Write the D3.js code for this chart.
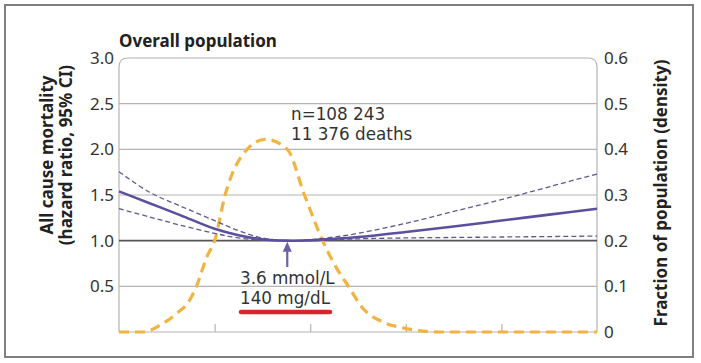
<!DOCTYPE html>
<html>
<head>
<meta charset="utf-8">
<script src="https://cdn.jsdelivr.net/npm/d3@7"></script>
<style>
  body { margin: 0; background: #fff; }
  svg { display: block; font-family: "Noto Sans", "Open Sans", sans-serif; }
</style>
</head>
<body>
<svg id="chart" width="701" height="363"></svg>
<script>
// ---- data (x in axis units; optimum at 3.6 mmol/L) ----
const xTicks = [1, 2, 3, 4];
const hrTicks = [0.5, 1.0, 1.5, 2.0, 2.5, 3.0];
const hrTickLabels = ["0.5", "1.0", "1.5", "2.0", "2.5", "3.0"];
const densTicks = [0, 0.1, 0.2, 0.3, 0.4, 0.5, 0.6];
const densTickLabels = ["0", "0.1", "0.2", "0.3", "0.4", "0.5", "0.6"];

const hrX     = [0, 0.32, 0.64, 1, 1.25, 1.5, 1.76, 2, 2.25, 2.5, 3, 3.5, 4, 4.5, 5];
const hrMid   = [1.54, 1.41, 1.28, 1.13, 1.06, 1.015, 1.0, 1.005, 1.02, 1.04, 1.095, 1.155, 1.22, 1.285, 1.35];
const hrUpper = [1.755, 1.53, 1.38, 1.22, 1.11, 1.03, 1.0, 1.01, 1.04, 1.08, 1.19, 1.32, 1.45, 1.59, 1.73];
const hrLower = [1.35, 1.26, 1.17, 1.08, 1.03, 1.005, 1.0, 1.0, 1.01, 1.02, 1.03, 1.035, 1.04, 1.045, 1.05];

const densX = [0, 0.25, 0.43, 0.6, 0.74, 0.81, 0.92, 1.0, 1.11, 1.34, 1.53, 1.76, 1.94, 2.13, 2.29, 2.4, 2.55, 2.76, 2.97, 3.18, 3.4, 3.8, 4.2, 4.6, 5];
const densY = [0, 0, 0.015, 0.04, 0.07, 0.1, 0.165, 0.2, 0.3, 0.4, 0.422, 0.4, 0.3, 0.2, 0.135, 0.1, 0.052, 0.022, 0.009, 0.002, 0, 0, 0, 0, 0];

const optimumX = 1.76;
const optimumLabels = ["3.6 mmol/L", "140 mg/dL"];
const titleText = "Overall population";
const annotation = ["n=108 243", "11 376 deaths"];
const leftTitle = ["All cause mortality", "(hazard ratio, 95% CI)"];
const rightTitle = "Fraction of population (density)";

// ---- layout ----
const svg = d3.select("#chart");
const L = 119, R = 597, T = 58, B = 332;
const x = d3.scaleLinear().domain([0, 5]).range([L, R]);
const yHR = d3.scaleLinear().domain([0, 3]).range([B, T]);
const yD = d3.scaleLinear().domain([0, 0.6]).range([B, T]);
const textCol = "#333";
const noteFont = "'DejaVu Sans', sans-serif";

// outer frame
svg.append("rect").attr("x", 5).attr("y", 5).attr("width", 688).attr("height", 352)
  .attr("fill", "none").attr("stroke", "#808080").attr("stroke-width", 2);

// gridlines (excluding top which is the frame)
svg.append("g").selectAll("line").data(hrTicks.filter(v => v !== 3 && v !== 1))
  .join("line")
  .attr("x1", L).attr("x2", R)
  .attr("y1", d => yHR(d)).attr("y2", d => yHR(d))
  .attr("stroke", "#b4b4b4").attr("stroke-width", 1.2);

// plot frame with rounded top corners
const rr = 9;
svg.append("path")
  .attr("d", `M${L},${B} L${L},${T + rr} Q${L},${T} ${L + rr},${T} L${R - rr},${T} Q${R},${T} ${R},${T + rr} L${R},${B}`)
  .attr("fill", "none").attr("stroke", "#b4b4b4").attr("stroke-width", 1.2);

// bottom axis
const xAxis = d3.axisTop(x).tickValues(xTicks).tickSize(8).tickFormat("");
svg.append("g").attr("transform", `translate(0,${B})`).call(xAxis)
  .call(g => g.select(".domain").remove())
  .call(g => g.selectAll("line").attr("stroke", "#b4b4b4").attr("stroke-width", 1.2));
svg.append("line").attr("x1", L).attr("x2", R).attr("y1", B).attr("y2", B)
  .attr("stroke", "#b4b4b4").attr("stroke-width", 1.2);

// reference line at 1.0
svg.append("line").attr("x1", L).attr("x2", R).attr("y1", yHR(1)).attr("y2", yHR(1))
  .attr("stroke", "#555").attr("stroke-width", 1.6);

// left tick labels
const yAxisL = d3.axisLeft(yHR).tickValues(hrTicks).tickSize(0)
  .tickFormat((d, i) => hrTickLabels[i]).tickPadding(5);
svg.append("g").attr("transform", `translate(${L},0)`).call(yAxisL)
  .call(g => g.select(".domain").remove())
  .call(g => g.selectAll("text").attr("font-size", 17).attr("fill", textCol)
        .attr("font-family", "Noto Sans, sans-serif"));

// right tick labels
const yAxisR = d3.axisRight(yD).tickValues(densTicks).tickSize(0)
  .tickFormat((d, i) => densTickLabels[i]).tickPadding(7);
svg.append("g").attr("transform", `translate(${R},0)`).call(yAxisR)
  .call(g => g.select(".domain").remove())
  .call(g => g.selectAll("text").attr("font-size", 17).attr("fill", textCol)
        .attr("font-family", "Noto Sans, sans-serif"));

// density curve
const densLine = d3.line().x(d => x(d[0])).y(d => yD(d[1])).curve(d3.curveMonotoneX);
svg.append("path").datum(densX.map((v, i) => [v, densY[i]]))
  .attr("d", densLine).attr("fill", "none")
  .attr("stroke", "#f0b440").attr("stroke-width", 3.2)
  .attr("stroke-dasharray", "10,6");

// HR curves
const hrLine = d3.line().x(d => x(d[0])).y(d => yHR(d[1])).curve(d3.curveCatmullRom.alpha(0.5));
[hrUpper, hrLower].forEach(arr => {
  svg.append("path").datum(hrX.map((v, i) => [v, arr[i]]))
    .attr("d", hrLine).attr("fill", "none")
    .attr("stroke", "#5f5a8e").attr("stroke-width", 1.3)
    .attr("stroke-dasharray", "5,3");
});
svg.append("path").datum(hrX.map((v, i) => [v, hrMid[i]]))
  .attr("d", hrLine).attr("fill", "none")
  .attr("stroke", "#5b4f9e").attr("stroke-width", 2.6);

// arrow at optimum
const ax = x(optimumX), tipY = yHR(1) + 1;
svg.append("line").attr("x1", ax).attr("x2", ax).attr("y1", tipY + 6).attr("y2", 267)
  .attr("stroke", "#6b5fa8").attr("stroke-width", 2.2);
svg.append("path")
  .attr("d", `M${ax},${tipY} L${ax - 4.5},${tipY + 10} L${ax + 4.5},${tipY + 10} Z`)
  .attr("fill", "#6b5fa8");

// optimum labels
svg.append("text").attr("x", 240).attr("y", 284).attr("font-size", 16.8).attr("fill", textCol)
  .attr("font-family", noteFont).text(optimumLabels[0]);
svg.append("text").attr("x", 240).attr("y", 304).attr("font-size", 16.8).attr("fill", textCol)
  .attr("font-family", noteFont).text(optimumLabels[1]);
svg.append("line").attr("x1", 241).attr("x2", 330).attr("y1", 312).attr("y2", 312)
  .attr("stroke", "#d9242b").attr("stroke-width", 4.5).attr("stroke-linecap", "round");

// annotation
svg.append("text").attr("x", 291).attr("y", 120).attr("font-size", 16.8).attr("fill", textCol)
  .attr("font-family", noteFont).text(annotation[0]);
svg.append("text").attr("x", 291).attr("y", 140).attr("font-size", 16.8).attr("fill", textCol)
  .attr("font-family", noteFont).text(annotation[1]);

// title
svg.append("text").attr("x", 119).attr("y", 47).attr("font-size", 17).attr("font-weight", "bold")
  .attr("fill", "#222").text(titleText);

// left axis title
const lt = svg.append("text").attr("transform", "translate(53,155) rotate(-90)")
  .attr("text-anchor", "middle").attr("font-size", 17).attr("font-weight", "bold").attr("fill", "#222");
lt.append("tspan").attr("x", 0).attr("dy", 0).text(leftTitle[0]);
lt.append("tspan").attr("x", 0).attr("dy", 19).text(leftTitle[1]);

// right axis title
svg.append("text").attr("transform", "translate(667,193) rotate(-90)")
  .attr("text-anchor", "middle").attr("font-size", 17).attr("font-weight", "bold").attr("fill", "#222")
  .text(rightTitle);
</script>
</body>
</html>
